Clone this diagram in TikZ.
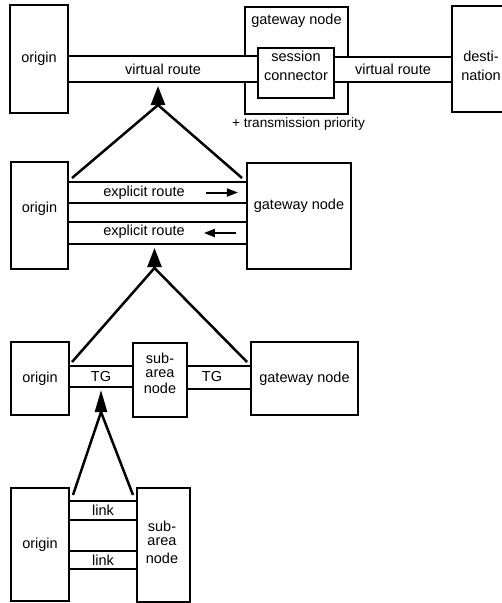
\documentclass[tikz,border=0pt]{standalone}
\usepackage{fontspec}
\setmainfont{Liberation Sans}
\usetikzlibrary{arrows.meta, positioning}

\tikzset{
  blk/.style={draw, line width=1.8pt, inner sep=0pt, align=center},
  band/.style={draw, fill=white, line width=1.8pt, inner sep=0pt},
  txt/.style={inner sep=0pt, align=center},
  leg/.style={line width=2.5pt, line join=miter},
  lift/.style={line width=2.5pt, -{Triangle[length=19pt,width=14pt]}},
  flowarrow/.style={line width=2pt, -{Triangle[length=11pt,width=8pt]}}
}

\begin{document}
\begin{tikzpicture}[x=1pt, y=-1pt, font=\fontsize{14.5pt}{19pt}\selectfont]
    \useasboundingbox (0,0) rectangle (502,603);
    \clip (0,0) rectangle (502,603);

    % top level: virtual routes through the gateway
    \node[blk, minimum width=58pt, minimum height=108pt] (org1) at (39,59) {origin};
    \node[blk, minimum width=103pt, minimum height=107pt] (gw1) at (296.5,60.5) {};
    \node[txt, below=8pt of gw1.north] (gw1-text) {gateway node};
    \node[band, minimum width=190pt, minimum height=26pt] (vr1) at (163,69) {virtual route};
    \node[blk, minimum width=76pt, minimum height=50pt] (sc) at (296,73) {};
    \node[txt] (sc-text) at (296,66) {session\\connector};
    \node[band, minimum width=118pt, minimum height=25pt] (vr2) at (393,69.5) {virtual route};
    \node[blk, minimum width=58pt, minimum height=106pt] (dst) at (481,59) {};
    \node[txt] (dst-text) at (481,66) {desti-\\nation};

    \coordinate (tip1) at (158,86);
    \coordinate (base1) at (158,105);
    \coordinate (l1) at (72,178);
    \coordinate (r1) at (242,178);
    \draw[leg] (l1) -- (base1) -- (r1);
    \draw[lift] (base1) -- (tip1);
    \node[txt, anchor=west, font=\fontsize{13.6pt}{16pt}\selectfont] (prio) at (232,124) {+ transmission priority};

    % explicit routes, one each way
    \node[blk, minimum width=57pt, minimum height=107pt] (org2) at (39.5,215.5) {};
    \node[txt] (org2-text) at (39.5,209) {origin};
    \node[band, minimum width=179pt, minimum height=21pt] (er1) at (157.5,192.5) {};
    \node[txt] (er1-text) at (144,193) {explicit route};
    \node[band, minimum width=179pt, minimum height=22pt] (er2) at (157.5,233) {};
    \node[txt] (er2-text) at (144,232) {explicit route};
    \node[blk, minimum width=104pt, minimum height=106pt] (gw2) at (299,216) {};
    \node[txt] (gw2-text) at (299,206) {gateway node};
    \draw[flowarrow] ([xshift=-42pt]er1.east) -- ([xshift=-10pt]er1.east);
    \draw[flowarrow] ([xshift=-12pt]er2.east) -- ([xshift=-44pt]er2.east);

    \coordinate (tip2) at (154.5,248);
    \coordinate (base2) at (154.5,268);
    \coordinate (l2) at (72,362);
    \coordinate (r2) at (247,362);
    \draw[leg] (l2) -- (base2) -- (r2);
    \draw[lift] (base2) -- (tip2);

    % transmission groups via a subarea node
    \node[blk, minimum width=58pt, minimum height=73pt] (org3) at (40,378.5) {origin};
    \node[band, minimum width=64pt, minimum height=21pt] (tg1) at (101,376.5) {TG};
    \node[blk, minimum width=54pt, minimum height=74pt] (sa3) at (160,380) {};
    \node[txt] (sa3-text) at (160,373) {sub-\\[-5pt]area\\[-3pt]node};
    \node[band, minimum width=64pt, minimum height=23pt] (tg2) at (219,377.5) {};
    \node[txt] (tg2-text) at (212,377) {TG};
    \node[blk, minimum width=107pt, minimum height=73pt] (gw3) at (304.5,378.5) {gateway node};

    \coordinate (tip3) at (101,390);
    \coordinate (base3) at (101,412);
    \coordinate (l3) at (73,495);
    \coordinate (r3) at (133,495);
    \draw[leg] (l3) -- (base3) -- (r3);
    \draw[lift, -{Triangle[length=22pt,width=12pt]}] (base3) -- (tip3);

    % links
    \node[blk, minimum width=58pt, minimum height=113pt] (org4) at (40,544.5) {origin};
    \node[band, minimum width=68pt, minimum height=19pt] (lk1) at (103,510.5) {link};
    \node[band, minimum width=68pt, minimum height=18pt] (lk2) at (103,560) {link};
    \node[blk, minimum width=53pt, minimum height=114pt] (sa4) at (163.5,545) {};
    \node[txt] (sa4-text) at (162,542) {sub-\\[-5pt]area\\[-1pt]node};
\end{tikzpicture}
\end{document}
